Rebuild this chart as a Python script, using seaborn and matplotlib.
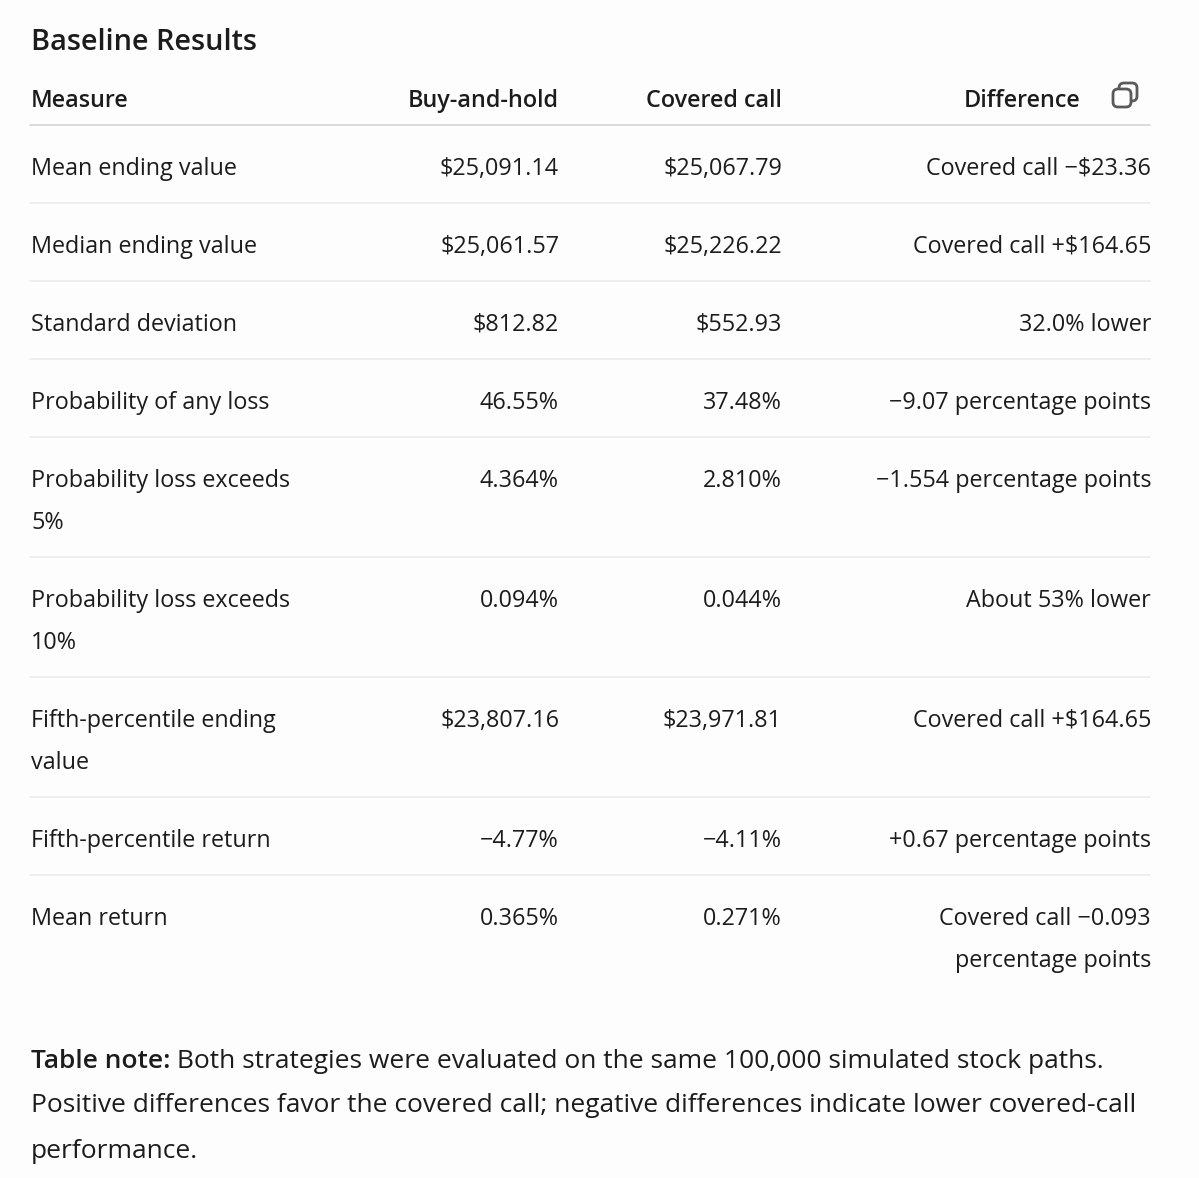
import matplotlib
matplotlib.use('Agg')
import matplotlib.pyplot as plt
import seaborn as sns
from matplotlib.patches import FancyBboxPatch

sns.set_theme(style='white')
plt.rcParams['font.family'] = ['Open Sans', 'DejaVu Sans']

title = 'Baseline Results'
columns = ['Measure', 'Buy-and-hold', 'Covered call', 'Difference']

measures = [
    ['Mean ending value'],
    ['Median ending value'],
    ['Standard deviation'],
    ['Probability of any loss'],
    ['Probability loss exceeds', '5%'],
    ['Probability loss exceeds', '10%'],
    ['Fifth-percentile ending', 'value'],
    ['Fifth-percentile return'],
    ['Mean return'],
]
buy_hold = ['$25,091.14', '$25,061.57', '$812.82', '46.55%', '4.364%',
            '0.094%', '$23,807.16', '\u22124.77%', '0.365%']
covered = ['$25,067.79', '$25,226.22', '$552.93', '37.48%', '2.810%',
           '0.044%', '$23,971.81', '\u22124.11%', '0.271%']
difference = [
    ['Covered call \u2212$23.36'],
    ['Covered call +$164.65'],
    ['32.0% lower'],
    ['\u22129.07 percentage points'],
    ['\u22121.554 percentage points'],
    ['About 53% lower'],
    ['Covered call +$164.65'],
    ['+0.67 percentage points'],
    ['Covered call \u22120.093', 'percentage points'],
]

note_bold = 'Table note:'
note_lines = [
    ' Both strategies were evaluated on the same 100,000 simulated stock paths.',
    'Positive differences favor the covered call; negative differences indicate lower covered-call',
    'performance.',
]

W, H = 1199, 1178
fig = plt.figure(figsize=(W / 100, H / 100), dpi=100)
fig.patch.set_facecolor('#fdfdfd')
ax = fig.add_axes([0, 0, 1, 1])
ax.set_xlim(0, W)
ax.set_ylim(H, 0)
ax.axis('off')

ink = '#1c1c1c'
left, right = 30, 1150
col_right = [None, 559, 782, 1081]
body_fs = 16.8
line_gap = 42
dy = 3  # nudge: va='center' counts the descent

ax.text(31, 39 + dy, title, fontsize=20.8, fontweight='semibold', color=ink,
        ha='left', va='center')

# header
header_y = 98 + dy
for i, c in enumerate(columns):
    if i == 0:
        ax.text(31, header_y, c, fontsize=body_fs, fontweight='semibold',
                color=ink, ha='left', va='center')
    else:
        ax.text(col_right[i], header_y, c, fontsize=body_fs,
                fontweight='semibold', color=ink, ha='right', va='center')

# copy icon
ax.add_patch(FancyBboxPatch((1119, 83), 18, 18,
                            boxstyle='round,pad=0,rounding_size=5',
                            fc='none', ec='#5a5a5a', lw=2))
ax.add_patch(FancyBboxPatch((1113, 89), 18, 18,
                            boxstyle='round,pad=0,rounding_size=5',
                            fc='#fdfdfd', ec='#5a5a5a', lw=2))

ax.plot([left, right], [125, 125], color='#d4d4d4', lw=1.2)

# rows
top = 125
for k in range(len(measures)):
    n = max(len(measures[k]), len(difference[k]))
    h = 78 + line_gap * (n - 1)
    y0 = top + 41 + dy
    for j, s in enumerate(measures[k]):
        ax.text(31, y0 + j * line_gap, s, fontsize=body_fs, color=ink,
                ha='left', va='center')
    ax.text(col_right[1], y0, buy_hold[k], fontsize=body_fs, color=ink,
            ha='right', va='center')
    ax.text(col_right[2], y0, covered[k], fontsize=body_fs, color=ink,
            ha='right', va='center')
    for j, s in enumerate(difference[k]):
        ax.text(right + 1, y0 + j * line_gap, s, fontsize=body_fs, color=ink,
                ha='right', va='center')
    top += h
    if k < len(measures) - 1:
        ax.plot([left, right], [top, top], color='#ececec', lw=1.2)

# note
note_fs = 19.0
t = ax.text(31, 1058 + dy, note_bold, fontsize=note_fs, fontweight='semibold',
            color=ink, ha='left', va='center')
ax.annotate(note_lines[0], xy=(1, 0.5), xycoords=t, fontsize=note_fs,
            color=ink, ha='left', va='center')
for j, s in enumerate(note_lines[1:], start=1):
    ax.text(31, 1058 + dy + 45 * j, s, fontsize=note_fs, color=ink,
            ha='left', va='center')

fig.savefig('out.png', dpi=100, facecolor=fig.get_facecolor())
